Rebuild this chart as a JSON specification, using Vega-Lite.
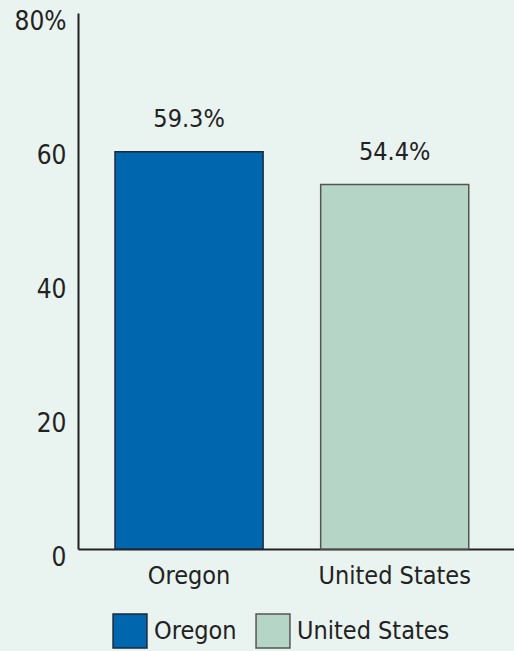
{
  "$schema": "https://vega.github.io/schema/vega-lite/v6.json",
  "autosize": "none",
  "width": 436,
  "height": 536,
  "padding": {"left": 78, "top": 13, "right": 0, "bottom": 102},
  "background": "#e9f3ef",
  "config": {
    "view": {"stroke": null},
    "font": "DejaVu Sans Condensed, sans-serif"
  },
  "data": {
    "values": [
      {"region": "Oregon", "value": 59.3, "label": "59.3%"},
      {"region": "United States", "value": 54.4, "label": "54.4%"}
    ]
  },
  "encoding": {
    "x": {
      "field": "region",
      "type": "nominal",
      "sort": null,
      "scale": {"paddingInner": 0.28, "paddingOuter": 0.2, "align": 0.45},
      "axis": {
        "title": null,
        "labelAngle": 0,
        "ticks": false,
        "labelFontSize": 25,
        "labelColor": "#222222",
        "labelPadding": 14,
        "domainColor": "#222222",
        "domainWidth": 2
      }
    },
    "y": {
      "field": "value",
      "type": "quantitative",
      "scale": {"domain": [0, 80]},
      "axis": {
        "title": null,
        "values": [0, 20, 40, 60, 80],
        "labelExpr": "datum.value == 80 ? '80%' : datum.label",
        "ticks": false,
        "grid": false,
        "labelFontSize": 26,
        "labelColor": "#222222",
        "labelPadding": 12,
        "labelOffset": 8,
        "domainColor": "#222222",
        "domainWidth": 2
      }
    }
  },
  "layer": [
    {
      "mark": {"type": "bar", "strokeWidth": 1.5},
      "encoding": {
        "color": {
          "field": "region",
          "type": "nominal",
          "sort": null,
          "scale": {"domain": ["Oregon", "United States"], "range": ["#0066ae", "#b5d6c6"]},
          "legend": {
            "title": null,
            "orient": "none",
            "legendX": 34,
            "legendY": 600,
            "direction": "horizontal",
            "symbolType": "square",
            "symbolSize": 1150,
            "symbolStrokeColor": "#444444",
            "symbolStrokeWidth": 1.5,
            "labelFontSize": 25,
            "labelColor": "#222222",
            "labelLimit": 300,
            "labelOffset": 6,
            "columnPadding": 16
          }
        },
        "stroke": {
          "field": "region",
          "type": "nominal",
          "sort": null,
          "scale": {"domain": ["Oregon", "United States"], "range": ["#1b2a3a", "#555555"]},
          "legend": null
        }
      }
    },
    {
      "mark": {"type": "text", "dy": -20, "baseline": "bottom", "fontSize": 25, "color": "#222222"},
      "encoding": {"text": {"field": "label"}}
    }
  ]
}
